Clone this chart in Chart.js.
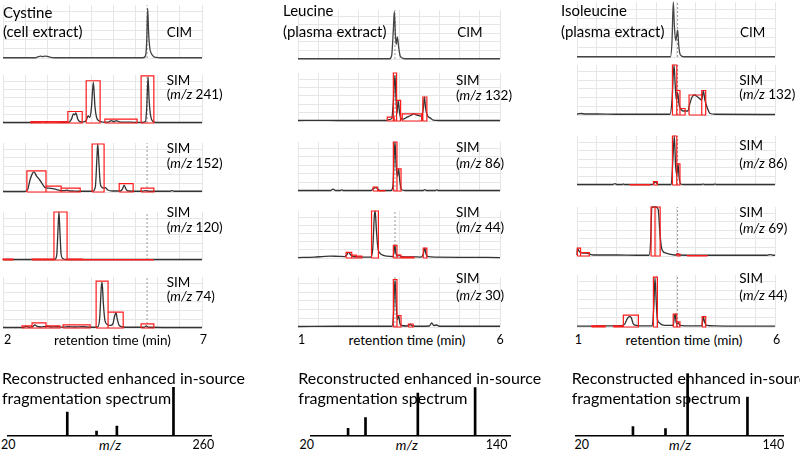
<!DOCTYPE html>
<html><head><meta charset="utf-8">
<script src="https://cdn.jsdelivr.net/npm/chart.js@4.4.0/dist/chart.umd.min.js"></script>
<style>
html,body{margin:0;padding:0;background:#fff;}
#root{position:relative;width:800px;height:453px;overflow:hidden;font-family:Lato,"Open Sans",sans-serif;color:#000;}
canvas{position:absolute;z-index:1;}
canvas.spec{z-index:3;}
.t{position:absolute;white-space:nowrap;line-height:18px;height:18px;z-index:2;}
.c{transform:translateX(-50%);}
</style></head><body><div id="root"></div>
<script>
// ================= DATA =================
const compounds = ['Cystine', 'Leucine', 'Isoleucine'];
const samples = ['(cell extract)', '(plasma extract)', '(plasma extract)'];
const cimLabel = 'CIM';
const rtTitle = 'retention time (min)';
const specTitle = ['Reconstructed enhanced in-source', 'fragmentation spectrum'];

const cysRtTicks = ['2', '7'];
const leuRtTicks = ['1', '6'];
const ileRtTicks = ['1', '6'];
const cysMzTicks = ['20', '260'];
const leuMzTicks = ['20', '140'];
const ileMzTicks = ['20', '140'];

// SIM channels (m/z) in panel order, and reconstructed spectrum intensities (same order, % of max)
const cysSimMz = [241, 152, 120, 74];
const leuSimMz = [132, 86, 44, 30];
const ileSimMz = [132, 86, 69, 44];
const cysSpecInt = [100, 20, 10, 49];
const leuSpecInt = [100, 88, 38, 16];
const ileSpecInt = [62, 100, 12, 15];

// retention time of CIM peak (dotted marker)
const cysCimRt = 5.62, leuCimRt = 3.40, ileCimRt = 3.54;

// chromatogram traces: [retention time (min), relative intensity %]
const cysCIM = [[2,0.5],[2.8,0.5],[2.87,2],[2.95,3.5],[3.0,2.5],[3.05,3.5],[3.12,3],[3.2,1],[3.3,0.5],[5.52,0.5],[5.58,4],[5.61,30],[5.635,94],[5.66,45],[5.69,18],[5.73,8],[5.78,3],[5.85,1],[5.95,0.5],[7,0.5]];
const cysSIM241 = [[2,1],[2.7,1],[2.8,2],[2.9,1.5],[3.0,3],[3.1,2],[3.3,2.5],[3.5,1.5],[3.65,1.5],[3.72,8],[3.77,19],[3.80,17],[3.83,21],[3.88,8],[3.93,3],[4.0,2],[4.08,4],[4.14,15],[4.18,12],[4.22,30],[4.27,85],[4.31,35],[4.35,12],[4.42,4],[4.5,2],[4.65,2],[4.72,5],[4.78,3],[4.85,5],[4.92,2.5],[5.1,2],[5.3,1.5],[5.5,1],[5.58,3],[5.61,30],[5.645,96],[5.67,50],[5.70,20],[5.74,6],[5.8,2],[5.9,1],[7,1]];
const cysSIM152 = [[2,1],[2.55,1],[2.62,5],[2.68,25],[2.74,38],[2.78,41],[2.84,33],[2.92,25],[3.0,15],[3.06,9],[3.15,8],[3.25,7],[3.35,5],[3.45,3],[3.55,3],[3.6,4],[3.65,2.5],[3.75,2],[3.9,1.5],[4.25,1.5],[4.32,10],[4.36,70],[4.38,98],[4.41,60],[4.44,20],[4.48,10],[4.53,8],[4.58,9],[4.63,4],[4.75,2],[4.95,2],[5.0,6],[5.045,14],[5.09,6],[5.15,2],[5.5,1.5],[5.6,3],[5.65,1.5],[6.2,1.5],[6.24,3],[6.3,1.5],[7,1.5]];
const cysSIM120 = [[2,1],[3.3,1],[3.35,10],[3.38,60],[3.405,100],[3.43,60],[3.46,12],[3.5,3],[3.6,1],[7,1]];
const cysSIM74 = [[2,1],[2.5,1],[2.6,3],[2.65,1.5],[2.75,3],[2.8,6],[2.86,3],[2.95,2],[3.1,3],[3.2,2],[3.35,2.5],[3.5,1.5],[3.65,2.5],[3.8,2],[4.0,2.5],[4.2,1.5],[4.38,2],[4.43,20],[4.47,80],[4.49,90],[4.52,50],[4.56,15],[4.62,7],[4.7,5],[4.76,8],[4.8,22],[4.84,30],[4.87,18],[4.92,5],[5.0,2],[5.2,1.5],[5.55,1.5],[5.6,4],[5.65,1.5],[7,1]];

const leuCIM = [[1,0.5],[3.27,0.5],[3.32,8],[3.36,60],[3.385,97],[3.41,50],[3.43,30],[3.46,45],[3.49,25],[3.53,6],[3.6,1.5],[3.7,0.5],[6,0.5]];
const leuSIM132 = [[1,1],[1.5,1.5],[2,1],[3.2,1],[3.25,3],[3.32,5],[3.36,40],[3.40,95],[3.43,40],[3.45,15],[3.48,43],[3.51,20],[3.55,5],[3.6,4],[3.7,8],[3.8,12],[3.86,15],[3.95,12],[4.05,10],[4.1,25],[4.13,50],[4.16,25],[4.2,12],[4.28,6],[4.35,2],[4.5,1],[6,1]];
const leuSIM86 = [[1,1],[1.8,1],[1.87,4],[1.93,1],[2.05,1],[2.08,2.5],[2.12,1],[2.8,1],[2.87,5],[2.92,7],[2.97,5],[3.02,1],[3.3,1],[3.35,10],[3.38,70],[3.40,100],[3.43,50],[3.46,30],[3.49,45],[3.52,20],[3.56,3],[3.65,1],[4.1,1],[4.14,3],[4.18,1],[4.4,1],[4.43,2.5],[4.47,1],[6,1]];
const leuSIM44 = [[1,1],[1.4,2],[1.6,3],[1.8,4],[2.0,3.5],[2.15,3],[2.2,6],[2.25,12],[2.3,7],[2.35,4],[2.4,3],[2.5,2.5],[2.6,2],[2.8,2],[2.85,20],[2.89,90],[2.91,100],[2.94,60],[2.98,20],[3.03,10],[3.1,6],[3.2,4],[3.35,3],[3.38,15],[3.40,27],[3.42,12],[3.46,4],[3.5,6],[3.55,3],[3.8,2.5],[4.05,2],[4.1,8],[4.14,21],[4.17,8],[4.22,3],[4.4,2],[5,1.5],[6,1]];
const leuSIM30 = [[1,1],[2,1.5],[3,1.5],[3.33,1.5],[3.36,20],[3.39,80],[3.405,93],[3.43,45],[3.46,15],[3.49,23],[3.52,8],[3.56,3],[3.7,2],[3.78,5],[3.84,2],[4.0,1.5],[4.25,2],[4.31,8],[4.36,3],[4.43,4],[4.5,1.5],[6,1.5]];

const ileCIM = [[1,0.5],[3.36,0.5],[3.40,30],[3.432,100],[3.46,55],[3.49,30],[3.52,40],[3.543,49],[3.57,20],[3.61,4],[3.7,0.5],[6,0.5]];
const ileSIM132 = [[1,2],[1.1,3],[1.2,2],[1.5,2],[2,1.5],[2.5,1.5],[3,1.5],[3.35,1.5],[3.40,30],[3.45,100],[3.48,60],[3.51,30],[3.54,45],[3.58,20],[3.64,10],[3.70,8],[3.8,8],[3.84,20],[3.90,35],[3.96,40],[4.05,36],[4.15,30],[4.19,48],[4.23,30],[4.30,12],[4.36,3],[4.5,1.5],[6,1]];
const ileSIM86 = [[1,1],[1.9,1],[1.96,3],[2.0,1],[2.14,1],[2.17,2],[2.2,1],[2.9,1],[2.95,4],[2.98,6],[3.02,3],[3.06,1],[3.38,1],[3.42,50],[3.457,100],[3.49,40],[3.52,20],[3.55,43],[3.58,15],[3.62,2],[3.7,1],[4.15,1],[4.18,2.5],[4.21,1],[4.45,1],[4.48,2],[4.52,1],[6,1]];
const ileSIM69 = [[1,2],[1.01,16],[1.05,10],[1.1,7],[1.2,6],[1.3,5],[1.35,3],[1.5,2],[2,2],[2.5,1.5],[2.82,1.5],[2.86,30],[2.89,100],[3.0,100],[3.05,95],[3.1,40],[3.15,12],[3.25,6],[3.4,3],[3.5,2],[3.54,5],[3.58,2],[4,1.5],[5,1.5],[5.8,1.5],[5.88,3],[5.95,1.5],[6,1.5]];
const ileSIM44 = [[1,1.5],[1.3,1.5],[1.5,2],[1.9,2],[2.1,2.5],[2.2,5],[2.27,16],[2.32,20],[2.37,18],[2.42,6],[2.5,3],[2.7,2],[2.9,2],[2.94,40],[2.97,95],[3.0,50],[3.03,15],[3.08,8],[3.15,4],[3.3,3],[3.43,3],[3.46,20],[3.48,25],[3.50,10],[3.53,6],[3.56,8],[3.6,3],[3.9,2],[4.15,2],[4.18,15],[4.19,20],[4.22,10],[4.27,3],[4.5,2],[5,1.5],[6,1.5]];

// integration windows (red boxes): [start, end, height %]
const cysBox241 = [[2.70,3.61,3],[3.63,3.99,24],[4.09,4.44,88],[4.56,5.37,8],[5.47,5.79,98]];
const cysBox152 = [[2.60,3.08,43],[3.08,3.46,12],[3.46,3.94,8],[4.24,4.54,98],[4.92,5.27,17],[5.47,5.79,8]];
const cysBox120 = [[2.0,2.25,2],[2.73,3.26,2],[3.28,3.61,100],[3.61,3.99,2],[3.99,5.77,1]];
const cysBox74 = [[2.48,2.73,4],[2.73,3.08,10],[3.08,3.43,4],[3.51,4.19,6],[4.34,4.64,92],[4.64,5.02,31],[5.47,5.79,8]];
const leuBox132 = [[3.21,3.38,8],[3.36,3.44,100],[3.44,3.54,43],[3.58,4.06,15],[4.09,4.19,50]];
const leuBox86 = [[2.86,2.97,8],[2.97,3.15,1],[3.36,3.45,100],[3.45,3.55,45]];
const leuBox44 = [[2.19,2.33,12],[2.33,2.44,6],[2.44,2.58,4],[2.82,2.99,100],[3.36,3.45,27],[3.45,3.55,6],[3.55,3.87,2],[4.10,4.19,21]];
const leuBox30 = [[3.36,3.45,95],[3.45,3.55,23],[3.73,3.85,6]];
const ileBox132 = [[3.41,3.52,100],[3.52,3.60,49],[3.60,3.73,13],[3.83,4.15,40],[4.15,4.25,49]];
const ileBox86 = [[2.34,2.84,1],[2.93,3.03,7],[3.41,3.52,100],[3.52,3.60,43]];
const ileBox69 = [[1.01,1.09,16],[1.09,1.31,7],[2.87,2.97,100],[2.97,3.10,100],[3.52,3.60,4],[3.78,4.28,1]];
const ileBox44 = [[1.37,1.71,2],[1.92,2.17,2],[2.17,2.55,23],[2.93,3.03,96],[3.43,3.52,25],[3.52,3.60,10],[4.16,4.25,20]];

// ================= LAYOUT (pixels) =================
const root = document.getElementById('root');
const COLS = [
  { rt: cysRtTicks, mzT: cysMzTicks, sim: cysSimMz, spec: cysSpecInt, cimRt: cysCimRt,
    traces: [cysCIM, cysSIM241, cysSIM152, cysSIM120, cysSIM74],
    boxes: [null, cysBox241, cysBox152, cysBox120, cysBox74],
    x0: 3, x1: 202, nGrid: 9,
    rows: [[5,58],[75,123],[143,192],[212,260],[277,328]],
    title: [3, 11.7, 30.7], cimX: 166.7, simX: 166.7,
    simY: [[80,94.3],[148.3,163.3],[211.7,226.7],[281.7,295.5]],
    rtLab: [7.7, 112.5, 203.3],
    specArea: [7.5, 211, 387, 436], specTitleX: 2, mzLab: [8.3, 110, 203.3] },
  { rt: leuRtTicks, mzT: leuMzTicks, sim: leuSimMz, spec: leuSpecInt, cimRt: leuCimRt,
    traces: [leuCIM, leuSIM132, leuSIM86, leuSIM44, leuSIM30],
    boxes: [null, leuBox132, leuBox86, leuBox44, leuBox30],
    x0: 298, x1: 500, nGrid: 10,
    rows: [[10,59],[73,121],[142,191],[211,258],[277,327]],
    title: [283, 10, 30.7], cimX: 457.3, simX: 456,
    simY: [[80,95],[146.7,163.3],[211.7,226.7],[278.3,295]],
    rtLab: [301.7, 407, 500],
    specArea: [310.7, 510, 387.3, 436], specTitleX: 298.3, mzLab: [306.7, 406.7, 496.7] },
  { rt: ileRtTicks, mzT: ileMzTicks, sim: ileSimMz, spec: ileSpecInt, cimRt: ileCimRt,
    traces: [ileCIM, ileSIM132, ileSIM86, ileSIM69, ileSIM44],
    boxes: [null, ileBox132, ileBox86, ileBox69, ileBox44],
    x0: 577, x1: 775, nGrid: 10,
    rows: [[2,57],[65,115],[136,185],[207,256],[275,327]],
    title: [561, 10, 30.7], cimX: 740, simX: 739.3,
    simY: [[80,94.3],[145,163.3],[211.7,228.3],[278.3,295]],
    rtLab: [578.3, 684, 776.7],
    specArea: [575.7, 783.9, 373.3, 436], specTitleX: 571.7, mzLab: [581.7, 680, 773.3] }
];

const FS_TITLE = 15, FS_SPEC = 16, FS_LAB = 13.5, FS_NUM = 12.5;

function addText(html, x, cy, size, center) {
  const d = document.createElement('div');
  d.className = 't' + (center ? ' c' : '');
  d.innerHTML = html;
  d.style.fontSize = size + 'px';
  d.style.left = x + 'px';
  d.style.top = (cy - 9) + 'px';
  root.appendChild(d);
}

function makeCanvas(x0, x1, y0, y1, pad, cls) {
  const L = Math.floor(x0) - pad, T = Math.floor(y0) - pad;
  const R = Math.ceil(x1) + pad, B = Math.ceil(y1) + pad;
  const c = document.createElement('canvas');
  if (cls) c.className = cls;
  c.width = R - L; c.height = B - T;
  c.style.left = L + 'px'; c.style.top = T + 'px';
  c.style.width = (R - L) + 'px'; c.style.height = (B - T) + 'px';
  root.appendChild(c);
  return { c, padding: { left: x0 - L, right: R - x1, top: y0 - T, bottom: B - y1 } };
}

const toXY = a => a.map(([x, y]) => ({ x, y }));
const boxesXY = b => b.flatMap(([a, e, h]) => [
  { x: a, y: 0 }, { x: a, y: h }, { x: e, y: h }, { x: e, y: 0 }, { x: a, y: 0 }, { x: e, y: null }]);

const GRID = '#e6e6e6';
const hGrid = [0, 17.4, 34.8, 52.2, 69.6, 87];

COLS.forEach((col, ci) => {
  const tmin = +col.rt[0], tmax = +col.rt[1];
  const xGrid = [];
  for (let k = 0; k <= col.nGrid; k++) xGrid.push(tmin + (tmax - tmin) * k / col.nGrid);

  // text
  addText(compounds[ci], col.title[0], col.title[1], FS_TITLE);
  addText(samples[ci], col.title[0], col.title[2], FS_TITLE);
  addText(cimLabel, col.cimX, 32.3, FS_LAB);
  col.sim.forEach((mz, i) => {
    addText('SIM', col.simX, col.simY[i][0], FS_LAB);
    addText('(<i>m/z</i> ' + mz + ')', col.simX, col.simY[i][1], FS_LAB);
  });
  addText(col.rt[0], col.rtLab[0], 340, FS_NUM, true);
  addText(rtTitle, col.rtLab[1], 340, FS_LAB, true);
  addText(col.rt[1], col.rtLab[2], 340, FS_NUM, true);
  addText(specTitle[0], col.specTitleX, 378.3, FS_SPEC);
  addText(specTitle[1], col.specTitleX, 398.3, FS_SPEC);
  addText(col.mzT[0], col.mzLab[0], 445, FS_NUM, true);
  addText('<i>m/z</i>', col.mzLab[1], 445, FS_LAB, true);
  addText(col.mzT[1], col.mzLab[2], 445, FS_NUM, true);

  // chromatogram panels
  col.rows.forEach(([top, bot], ri) => {
    const { c, padding } = makeCanvas(col.x0, col.x1, top, bot, 4);
    const ds = [];
    if (col.boxes[ri]) ds.push({ data: boxesXY(col.boxes[ri]), borderColor: '#ff1a1a', borderWidth: 1.2, pointRadius: 0, tension: 0, spanGaps: false, clip: 6 });
    ds.push({ data: toXY(col.traces[ri]), borderColor: ri === 0 ? '#444' : '#333', borderWidth: 1.3, pointRadius: 0, cubicInterpolationMode: 'monotone', clip: 6 });
    ds.push({ data: [{ x: col.cimRt, y: 0 }, { x: col.cimRt, y: 100 }], borderColor: '#9a9a9a', borderWidth: 1, borderDash: [2, 2], pointRadius: 0, tension: 0, clip: 6 });
    new Chart(c, {
      type: 'line',
      data: { datasets: ds },
      options: {
        responsive: false, animation: false, devicePixelRatio: 1,
        layout: { padding },
        plugins: { legend: { display: false }, tooltip: { enabled: false } },
        scales: {
          x: { type: 'linear', min: tmin, max: tmax, ticks: { display: false }, border: { display: false },
               grid: { color: GRID, drawTicks: false, lineWidth: 1 },
               afterBuildTicks: s => { s.ticks = xGrid.map(v => ({ value: v })); } },
          y: { type: 'linear', min: 0, max: 100, ticks: { display: false }, border: { display: false },
               grid: { color: GRID, drawTicks: false, lineWidth: 1 },
               afterBuildTicks: s => { s.ticks = hGrid.map(v => ({ value: v })); } }
        }
      }
    });
  });

  // reconstructed spectrum
  const [sx0, sx1, sy0, sy1] = col.specArea;
  const { c, padding } = makeCanvas(sx0, sx1, sy0, sy1, 4, 'spec');
  new Chart(c, {
    type: 'bar',
    data: { datasets: [{ data: col.sim.map((m, i) => ({ x: m, y: col.spec[i] })), backgroundColor: '#000', barThickness: 2, borderWidth: 0 }] },
    options: {
      responsive: false, animation: false, devicePixelRatio: 1,
      layout: { padding },
      plugins: { legend: { display: false }, tooltip: { enabled: false } },
      scales: {
        x: { type: 'linear', min: +col.mzT[0], max: +col.mzT[1], ticks: { display: false },
             grid: { display: false, drawTicks: false }, border: { display: true, color: '#000', width: 1.5 } },
        y: { display: false, min: 0, max: 100 }
      }
    }
  });
});
</script></body></html>
